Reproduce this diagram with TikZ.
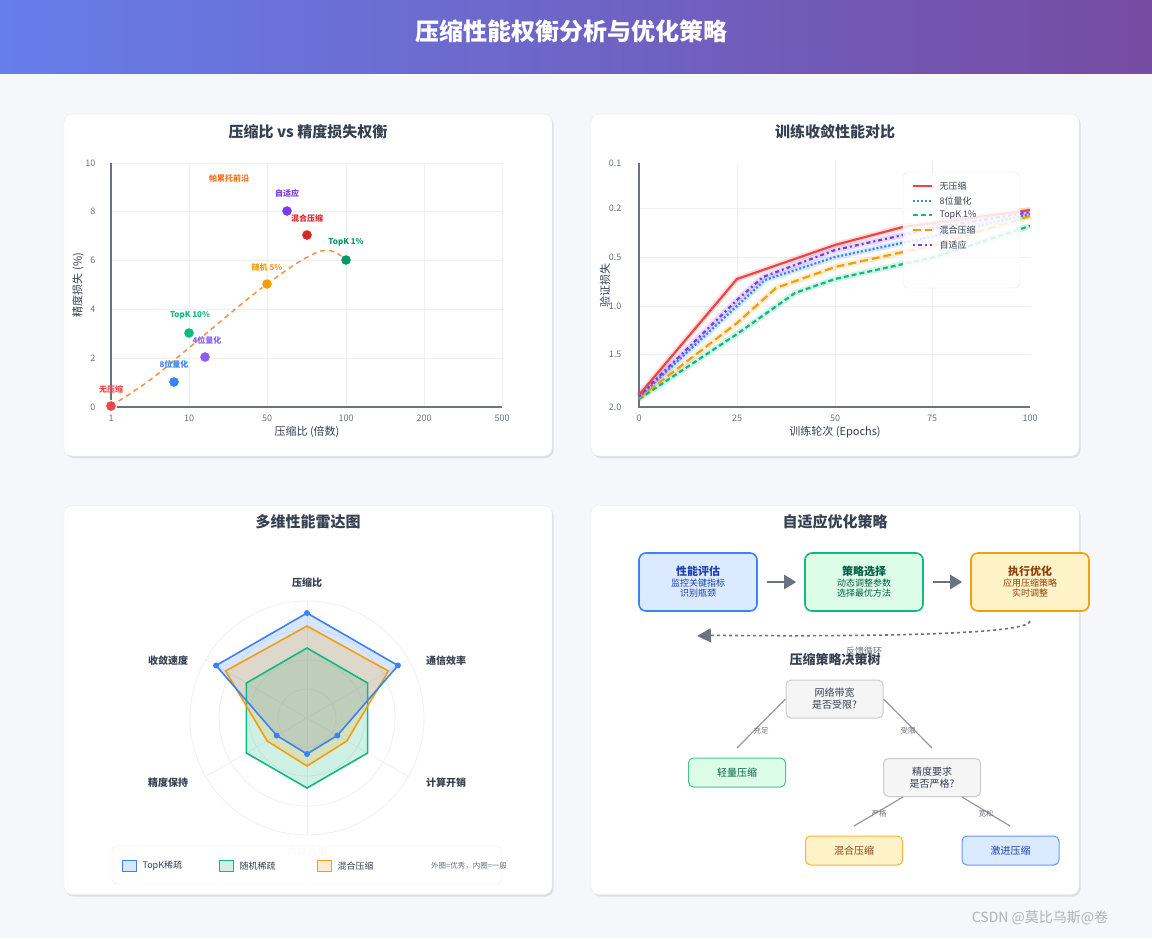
\documentclass[tikz,border=0pt]{standalone}
\usepackage{fontspec}
\setmainfont{Noto Sans CJK SC}
\usetikzlibrary{arrows.meta,shadows,calc}
\definecolor{bgc}{HTML}{F5F7FA}
\definecolor{gA}{HTML}{667EEA}
\definecolor{gB}{HTML}{764BA2}
\definecolor{ax}{HTML}{6B7280}
\definecolor{tx}{HTML}{374151}
\definecolor{grd}{HTML}{EEF0F3}
\definecolor{cred}{HTML}{EF4444}
\definecolor{cdred}{HTML}{DC2626}
\definecolor{cblue}{HTML}{3B82F6}
\definecolor{cgreen}{HTML}{10B981}
\definecolor{cdgreen}{HTML}{059669}
\definecolor{cpurp}{HTML}{8B5CF6}
\definecolor{cdpurp}{HTML}{7C3AED}
\definecolor{corange}{HTML}{F59E0B}
\definecolor{cpar}{HTML}{F97316}
\definecolor{fyel}{HTML}{FEF3C7}
\definecolor{fblu}{HTML}{DBEAFE}
\definecolor{fgrn}{HTML}{DCFCE7}
\definecolor{tblu}{HTML}{1E40AF}
\definecolor{tgrn}{HTML}{065F46}
\definecolor{tyel}{HTML}{92400E}
\tikzset{
  panel/.style={draw=black!8,fill=white,rounded corners=8pt,drop shadow={shadow xshift=1.5pt,shadow yshift=-2pt,opacity=0.25,fill=black!40}},
  ptitle/.style={font=\bfseries\fontsize{15}{15}\selectfont,text=tx},
  tick/.style={font=\fontsize{9}{9}\selectfont,text=ax},
  axt/.style={font=\fontsize{11}{11}\selectfont,text=tx},
  pt/.style={circle,fill=#1,draw=white,line width=1pt,minimum size=11pt,inner sep=0},
  plab/.style={font=\bfseries\fontsize{8}{8}\selectfont,text=#1},
  axisline/.style={ax,line width=1.6pt},
  gridl/.style={grd,line width=0.5pt},
  glow/.style={#1,opacity=0.18,line width=6pt,line join=round},
  ser/.style={#1,line width=2.2pt,line join=round},
  leg/.style={font=\fontsize{9}{9}\selectfont,text=tx,anchor=west},
  fbox/.style={draw=#1,line width=1.6pt,rounded corners=7pt,minimum width=118pt,minimum height=58pt,align=center},
  tbox/.style={draw=#1,line width=1pt,rounded corners=5pt,minimum width=97pt,minimum height=29pt,align=center,font=\fontsize{10}{12}\selectfont},
  gbox/.style={draw=black!20,fill=black!4,line width=1pt,rounded corners=5pt,minimum width=97pt,minimum height=38pt,align=center,font=\fontsize{10}{12}\selectfont,text=tx},
  brl/.style={black!40,line width=1.2pt},
  brt/.style={font=\fontsize{7.5}{7.5}\selectfont,text=ax},
  bigarr/.style={ax,line width=2.5pt,-{Triangle[length=12pt,width=14pt]}},
  rl/.style={font=\bfseries\fontsize{10}{10}\selectfont,text=tx},
}
\begin{document}
\begin{tikzpicture}[x=1pt,y=-1pt]
\useasboundingbox (0,0) rectangle (1152,938);
\fill[bgc] (0,0) rectangle (1152,938);
\shade[left color=gA,right color=gB] (0,0) rectangle (1152,73);
\node[text=white,font=\bfseries\fontsize{24}{24}\selectfont] (title) at (571,31) {压缩性能权衡分析与优化策略};
% panels
\node[panel,minimum width=488pt,minimum height=342pt] (p1) at (308,285) {};
\node[panel,minimum width=488pt,minimum height=342pt] (p2) at (835,285) {};
\node[panel,minimum width=488pt,minimum height=389pt] (p3) at (308,700) {};
\node[panel,minimum width=488pt,minimum height=389pt] (p4) at (835,700) {};
\node[ptitle] (t1) at (308,132) {压缩比 vs 精度损失权衡};
\node[ptitle] (t2) at (835,132) {训练收敛性能对比};
\node[ptitle] (t3) at (308,522) {多维性能雷达图};
\node[ptitle] (t4) at (835,522) {自适应优化策略};
% ===== chart 1
\foreach \y in {163,211,260,309,358} \draw[gridl] (111,\y) -- (502,\y);
\foreach \x in {189,267,346,424,502} \draw[gridl] (\x,163) -- (\x,407);
\draw[axisline] (111,163) -- (111,407) -- (502,407);
\foreach \v/\y in {0/407,2/358,4/309,6/260,8/211,10/163} \node[tick,anchor=east] at (99,\y) {\v};
\foreach \v/\x in {1/111,10/189,50/267,100/346,200/424,500/502} \node[tick] at (\x,418) {\v};
\node[axt] (x1) at (307,432) {压缩比 (倍数)};
\node[axt,rotate=90] (y1) at (78,285) {精度损失 (\%)};
\draw[cpar!80,line width=1.5pt,dash pattern=on 5pt off 4pt] plot[smooth,tension=0.6] coordinates {(111,406) (150,380) (190,347) (267,284) (321,251) (346,260)};
\node[pt=cred] (a1) at (111,406) {};
\node[pt=cblue] (a2) at (174,382) {};
\node[pt=cgreen] (a3) at (189,333) {};
\node[pt=cpurp] (a4) at (205,357) {};
\node[pt=corange] (a5) at (267,284) {};
\node[pt=cdred] (a6) at (307,235) {};
\node[pt=cdpurp] (a7) at (287,211) {};
\node[pt=cdgreen] (a8) at (346,260) {};
\node[plab=cred] at (111,389) {无压缩};
\node[plab=cblue] at (174,364) {8位量化};
\node[plab=cgreen] at (190,315) {TopK 10\%};
\node[plab=cpurp] at (207,340) {4位量化};
\node[plab=corange] at (267,267) {随机 5\%};
\node[plab=cdred] at (307,218) {混合压缩};
\node[plab=cdpurp] at (287,193) {自适应};
\node[plab=cdgreen] at (346,242) {TopK 1\%};
\node[plab=cpar] at (229,178) {帕累托前沿};
% ===== chart 2
\foreach \y in {208,257,306,354} \draw[gridl] (639,\y) -- (1030,\y);
\foreach \x in {737,835,932} \draw[gridl] (\x,163) -- (\x,407);
\draw[axisline] (639,163) -- (639,407) -- (1030,407);
\foreach \v/\y in {0.1/163,0.2/208,0.5/257,1.0/306,1.5/354,2.0/407} \node[tick,anchor=east] at (625,\y) {\v};
\foreach \v/\x in {0/639,25/737,50/835,75/932,100/1030} \node[tick] at (\x,418) {\v};
\node[axt] (x2) at (835,432) {训练轮次 (Epochs)};
\node[axt,rotate=90] (y2) at (605,285) {验证损失};
\def\Lr{(639,395) (737,279) (835,245) (903,227) (1030,210)}
\def\Lb{(639,397) (737,306) (765,280) (835,257) (935,236) (1030,214)}
\def\Lp{(639,396) (737,300) (763,277) (835,250) (935,228) (1030,212)}
\def\Lo{(639,398) (737,323) (776,288) (835,267) (935,245) (1030,216)}
\def\Lg{(639,399) (737,334) (795,293) (835,279) (935,257) (1030,226)}
\draw[glow=cgreen] plot coordinates {\Lg};
\draw[glow=corange] plot coordinates {\Lo};
\draw[glow=cblue] plot coordinates {\Lb};
\draw[glow=cdpurp] plot coordinates {\Lp};
\draw[glow=cred] plot coordinates {\Lr};
\draw[ser=cgreen,dash pattern=on 5pt off 3pt] plot coordinates {\Lg};
\draw[ser=corange,dash pattern=on 8pt off 4pt] plot coordinates {\Lo};
\draw[ser=cblue,dash pattern=on 2pt off 2pt] plot coordinates {\Lb};
\draw[ser=cdpurp,dash pattern=on 2pt off 3pt on 4pt off 3pt] plot coordinates {\Lp};
\draw[ser=cred] plot coordinates {\Lr};
\node[draw=black!10,fill=white,fill opacity=0.85,rounded corners=5pt,minimum width=117pt,minimum height=116pt] (lg2) at (961.5,230) {};
\draw[ser=cred] (913,186) -- (932,186); \node[leg] at (936,186) {无压缩};
\draw[ser=cblue,dash pattern=on 2pt off 2pt] (913,201) -- (932,201); \node[leg] at (936,201) {8位量化};
\draw[ser=cgreen,dash pattern=on 5pt off 3pt] (913,215) -- (932,215); \node[leg] at (936,215) {TopK 1\%};
\draw[ser=corange,dash pattern=on 8pt off 4pt] (913,230) -- (932,230); \node[leg] at (936,230) {混合压缩};
\draw[ser=cdpurp,dash pattern=on 2pt off 3pt on 4pt off 3pt] (913,245) -- (932,245); \node[leg] at (936,245) {自适应};
% ===== chart 3 radar
\begin{scope}[shift={(307,718)}]
\foreach \r in {29,58,88,117} \draw[grd,line width=0.8pt] (0,0) circle (\r);
\foreach \a in {90,30,-30,-90,-150,150} \draw[grd,line width=0.8pt] (0,0) -- ({117*cos(\a)},{-117*sin(\a)});
\fill[cgreen,fill opacity=0.2] ({70*cos(90)},{-70*sin(90)}) \foreach \a in {30,-30,-90,-150,150} {-- ({70*cos(\a)},{-70*sin(\a)})} -- cycle;
\fill[cblue,fill opacity=0.2] ({105*cos(90)},{-105*sin(90)}) -- ({105*cos(30)},{-105*sin(30)}) -- ({35*cos(-30)},{-35*sin(-30)}) -- (0,36) -- ({35*cos(-150)},{-35*sin(-150)}) -- ({105*cos(150)},{-105*sin(150)}) -- cycle;
\fill[corange,fill opacity=0.2] (0,-92) -- ({94*cos(30)},{-94*sin(30)}) -- ({46*cos(-30)},{-46*sin(-30)}) -- (0,48) -- ({46*cos(-150)},{-46*sin(-150)}) -- ({94*cos(150)},{-94*sin(150)}) -- cycle;
\draw[cgreen,line width=1.6pt] ({70*cos(90)},{-70*sin(90)}) \foreach \a in {30,-30,-90,-150,150} {-- ({70*cos(\a)},{-70*sin(\a)})} -- cycle;
\draw[corange,line width=1.6pt] (0,-92) -- ({94*cos(30)},{-94*sin(30)}) -- ({46*cos(-30)},{-46*sin(-30)}) -- (0,48) -- ({46*cos(-150)},{-46*sin(-150)}) -- ({94*cos(150)},{-94*sin(150)}) -- cycle;
\draw[cblue,line width=1.6pt] (0,-105) -- ({105*cos(30)},{-105*sin(30)}) -- ({35*cos(-30)},{-35*sin(-30)}) -- (0,36) -- ({35*cos(-150)},{-35*sin(-150)}) -- ({105*cos(150)},{-105*sin(150)}) -- cycle;
\foreach \p in {(0,-105),({105*cos(30)},{-105*sin(30)}),({35*cos(-30)},{-35*sin(-30)}),(0,36),({35*cos(-150)},{-35*sin(-150)}),({105*cos(150)},{-105*sin(150)})} \fill[cblue] \p circle (3pt);
\end{scope}
\node[rl] (r1) at (307,583) {压缩比};
\node[rl] (r2) at (446,661) {通信效率};
\node[rl] (r3) at (446,783) {计算开销};
\node[rl,text=black!15] (r4) at (307,852) {内存占用};
\node[rl] (r5) at (168,783) {精度保持};
\node[rl] (r6) at (168,661) {收敛速度};
\node[draw=black!8,fill=white,fill opacity=0.9,rounded corners=5pt,minimum width=390pt,minimum height=38pt] (lg3) at (307,865) {};
\draw[cblue,fill=cblue!20,line width=1pt] (122,860) rectangle (136,871); \node[leg] at (139,866) {TopK稀疏};
\draw[cgreen,fill=cgreen!20,line width=1pt] (219,860) rectangle (233,871); \node[leg] at (236,866) {随机稀疏};
\draw[corange,fill=corange!20,line width=1pt] (317,860) rectangle (331,871); \node[leg] at (334,866) {混合压缩};
\node[font=\fontsize{7.5}{7.5}\selectfont,text=ax] at (469,866) {外圈=优秀，内圈=一般};
% ===== chart 4
\node[fbox=cblue,fill=fblu] (f1) at (698,582) {\textbf{\fontsize{11}{14}\selectfont\color{tblu}性能评估}\\[-1pt]{\fontsize{9}{13}\selectfont\color{tblu}监控关键指标}\\[-2pt]{\fontsize{9}{13}\selectfont\color{tblu}识别瓶颈}};
\node[fbox=cgreen,fill=fgrn] (f2) at (864,582) {\textbf{\fontsize{11}{14}\selectfont\color{tgrn}策略选择}\\[-1pt]{\fontsize{9}{13}\selectfont\color{tgrn}动态调整参数}\\[-2pt]{\fontsize{9}{13}\selectfont\color{tgrn}选择最优方法}};
\node[fbox=corange,fill=fyel] (f3) at (1030,582) {\textbf{\fontsize{11}{14}\selectfont\color{tyel}执行优化}\\[-1pt]{\fontsize{9}{13}\selectfont\color{tyel}应用压缩策略}\\[-2pt]{\fontsize{9}{13}\selectfont\color{tyel}实时调整}};
\draw[bigarr] ($(f1.east)+(9,0)$) -- ($(f2.west)+(-8,0)$);
\draw[bigarr] ($(f2.east)+(9,0)$) -- ($(f3.west)+(-8,0)$);
\coordinate (fbs) at (1030,621);
\coordinate (fbe) at (697,636);
\draw[ax,line width=1.6pt,dash pattern=on 3pt off 3pt,-{Triangle[length=14pt,width=14pt]}] (fbs) .. controls (1030,640) and (720,635) .. (fbe);
\node[font=\fontsize{9}{9}\selectfont,text=ax] (fbl) at (864,651) {反馈循环};
\node[font=\bfseries\fontsize{13}{13}\selectfont,text=tx] (tt) at (835,660) {压缩策略决策树};
\node[gbox] (d1) at (834.5,699) {网络带宽\\是否受限?};
\coordinate (b1) at (737,748);
\coordinate (b2) at (932,748);
\draw[brl] (d1.west) -- (b1);
\draw[brl] (d1.east) -- (b2);
\node[brt] at (761,731) {充足};
\node[brt] at (908,731) {受限};
\node[tbox=cgreen!80,fill=fgrn,text=tgrn] (l1) at (737,772.5) {轻量压缩};
\node[gbox] (d2) at (932,777.5) {精度要求\\是否严格?};
\coordinate (b3) at (854,826);
\coordinate (b4) at (1010,826);
\draw[brl] ($(d2.south)+(-29,0)$) -- (b3);
\draw[brl] ($(d2.south)+(30,0)$) -- (b4);
\node[brt] at (879,814) {严格};
\node[brt] at (986,814) {宽松};
\node[tbox=corange!80,fill=fyel,text=tyel] (l2) at (854,850.5) {混合压缩};
\node[tbox=cblue!80,fill=fblu,text=tblu] (l3) at (1010.5,850.5) {激进压缩};
\node[font=\fontsize{14}{14}\selectfont,text=black!30] (wm) at (1040,918) {CSDN @莫比乌斯@卷};
\end{tikzpicture}
\end{document}
